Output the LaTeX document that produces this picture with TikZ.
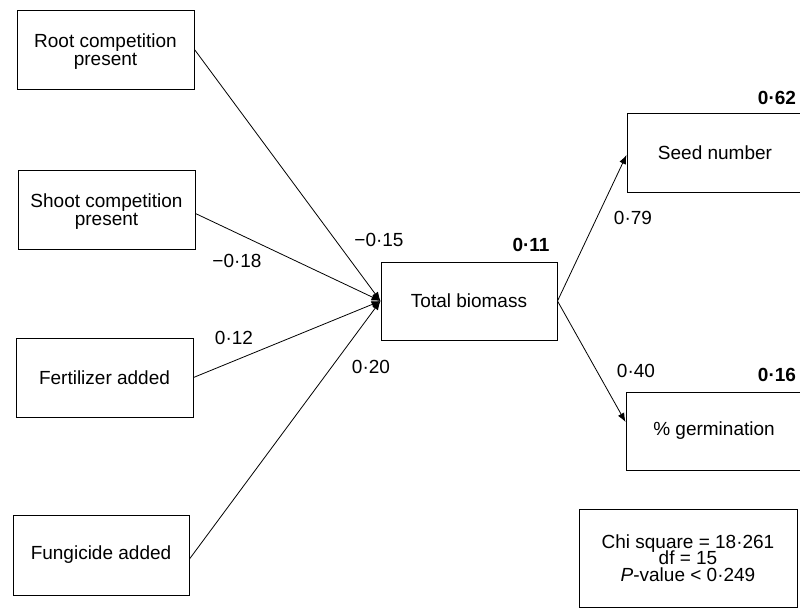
\documentclass[tikz,border=0pt]{standalone}
\usepackage{fontspec}
\setmainfont{Liberation Sans}
\usetikzlibrary{arrows.meta,positioning}
\tikzset{
  box/.style={draw=black, line width=1pt, minimum width=177pt, minimum height=79pt, inner sep=0pt, align=center, font=\fontsize{19}{18}\selectfont},
  conn/.style={line width=0.8pt, -{Latex[length=9pt,width=7pt]}},
  coef/.style={font=\fontsize{19}{20}\selectfont, inner sep=0pt},
  rsq/.style={font=\fontsize{19}{20}\selectfont\bfseries, inner sep=0pt}
}
\begin{document}
\begin{tikzpicture}[x=1pt,y=-1pt]
\useasboundingbox (0,0) rectangle (800,608);
\clip (0,0) rectangle (800,608);
\fill[white] (0,0) rectangle (800,608);
\node[box, text depth=0pt] (root) at (105.5,49.5) {Root competition\\[0.5pt]present};
\node[box, text depth=0pt] (shoot) at (106.5,209.5) {Shoot competition\\[0.5pt]present};
\node[box] (fert) at (104.5,377.5) {Fertilizer added};
\node[box, minimum width=176pt, minimum height=80pt] (fung) at (101,555) {Fungicide added};
\node[box, minimum width=176pt, minimum height=78pt] (total) at (469,301) {Total biomass};
\node[box, minimum width=176pt] (seed) at (715,152.5) {Seed number};
\node[box, minimum width=176pt, minimum height=78pt] (germ) at (714,431) {\% germination};
\node[box, minimum width=218pt, minimum height=98pt] (chi) at (688,558) {Chi square = 18·261\\[-1.5pt]df = 15\\[-1.5pt]\textit{P}-value < 0·249};

\draw[conn] (root.east) -- (total.west);
\draw[conn] ([yshift=-4pt]shoot.east) -- (total.west);
\draw[conn] (fert.east) -- (total.west);
\draw[conn] ([yshift=-4pt]fung.east) -- (total.west);
\draw[conn] (total.east) -- ([yshift=-2.5pt]seed.west);
\draw[conn] (total.east) -- ([yshift=9pt]germ.west);

\node[coef] (c1) at (379,240) {−0·15};
\node[coef] (c2) at (237,261) {−0·18};
\node[coef] (c3) at (234,338) {0·12};
\node[coef] (c4) at (371,367) {0·20};
\node[coef] (c5) at (633,218) {0·79};
\node[coef] (c6) at (636,371) {0·40};
\node[rsq] (r1) at (531,245) {0·11};
\node[rsq] (r2) at (777,98) {0·62};
\node[rsq] (r3) at (777,375) {0·16};
\end{tikzpicture}
\end{document}
